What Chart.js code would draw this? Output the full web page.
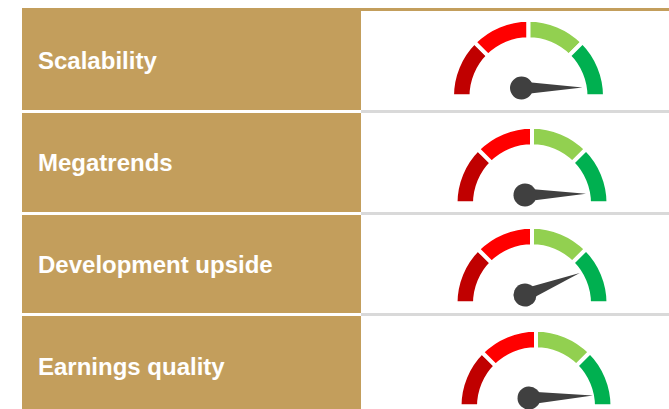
<!DOCTYPE html>
<html>
<head>
<meta charset="utf-8">
<script src="https://cdn.jsdelivr.net/npm/chart.js@4"></script>
<style>
  html, body { margin: 0; padding: 0; background: #fff; }
  #page { position: relative; width: 669px; height: 409px; overflow: hidden; }
  .bar { position: absolute; }
  .label {
    position: absolute; left: 38px; color: #fff; white-space: nowrap;
    font: bold 24px "Liberation Sans", Arial, sans-serif; line-height: 28px;
  }
  canvas { position: absolute; }
</style>
</head>
<body>
<div id="page"></div>
<script>
const categories = ['Scalability', 'Megatrends', 'Development upside', 'Earnings quality'];
const zoneValues = [25, 25, 25, 25];
const needleValues = [99.8, 99.4, 87.8, 98.7];

const zoneColors = ['#C00000', '#FF0000', '#92D050', '#00B050'];
const gold = '#C39E5C';
const lineGrey = '#D9D9D9';
const needleColor = '#404040';

// where each gauge sits on the page
const gaugeX = [528.5, 532, 532, 536];
const gaugeY = [96.25, 203.25, 303.25, 406.25];
const labelY = [61, 163, 265, 367];
const ruleY = [110, 212, 313];
const ruleH = [2.5, 2.5, 3];
const hubOffset = { x: -7, y: -8.25 };
const needleLen = [61, 61, 59, 64];
// white 4px border eats 2px off each edge of the ring, so these are a bit bigger than what shows
const arcRadius = 76.5;

const page = document.getElementById('page');

function addBar(left, top, width, height, color) {
    var d = document.createElement('div');
    d.className = 'bar';
    d.style.cssText = `left:${left}px;top:${top}px;width:${width}px;height:${height}px;background:${color}`;
    page.appendChild(d);
}

addBar(22, 8, 339, 401, gold);
addBar(361, 8, 308, 3, gold);
ruleY.forEach(function (y, i) {
    addBar(22, y, 339, ruleH[i], '#fff');
    addBar(361, y, 308, ruleH[i], lineGrey);
});

categories.forEach(function (name, i) {
    var l = document.createElement('div');
    l.className = 'label';
    l.textContent = name;
    l.style.top = (labelY[i] - 14) + 'px';
    page.appendChild(l);
});

const needlePlugin = {
    id: 'needle',
    afterDatasetsDraw(chart, args, opts) {
        var arc = chart.getDatasetMeta(0).data[0];
        var total = zoneValues.reduce(function (a, b) { return a + b; }, 0);
        var angle = Math.PI + (opts.value / total) * Math.PI;
        var hx = arc.x + hubOffset.x, hy = arc.y + hubOffset.y;
        var ctx = chart.ctx;
        ctx.save();
        ctx.translate(hx, hy);
        ctx.rotate(angle);
        ctx.fillStyle = needleColor;
        ctx.beginPath();
        ctx.moveTo(0, -6.5);
        ctx.lineTo(opts.length, 0);
        ctx.lineTo(0, 6.5);
        ctx.closePath();
        ctx.fill();
        ctx.beginPath();
        ctx.arc(0, 0, 11.5, 0, Math.PI * 2);
        ctx.fill();
        ctx.restore();
    }
};

categories.forEach(function (name, i) {
    var w = 170, h = 100, padBottom = 14;
    var padLeft = gaugeX[i] % 1 ? 1 : 0;
    var canvas = document.createElement('canvas');
    canvas.width = w;
    canvas.height = h;
    canvas.style.left = Math.floor(gaugeX[i] - w / 2) + 'px';
    // arc centre lands at (h - padBottom)/2 + radius/2 inside the canvas
    canvas.style.top = Math.round(gaugeY[i] - ((h - padBottom) / 2 + arcRadius / 2)) + 'px';
    page.appendChild(canvas);

    new Chart(canvas.getContext('2d'), {
        type: 'doughnut',
        data: {
            labels: ['Very low', 'Low', 'High', 'Very high'],
            datasets: [{
                data: zoneValues,
                backgroundColor: zoneColors,
                borderColor: '#fff',
                borderWidth: 4
            }]
        },
        options: {
            responsive: false,
            animation: false,
            events: [],
            rotation: -90,
            circumference: 180,
            radius: arcRadius,
            cutout: '74.5%',
            layout: { padding: { bottom: padBottom, left: padLeft } },
            plugins: {
                legend: { display: false },
                tooltip: { enabled: false },
                needle: { value: needleValues[i], length: needleLen[i] }
            }
        },
        plugins: [needlePlugin]
    });
});
</script>
</body>
</html>
